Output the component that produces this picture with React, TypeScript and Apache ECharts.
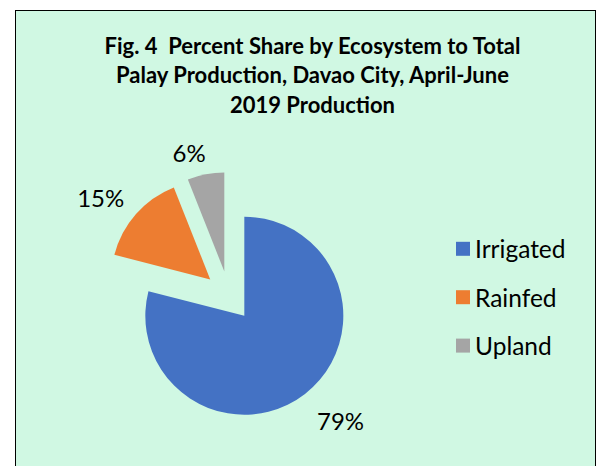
import React, { useEffect, useRef } from "react";
import * as echarts from "echarts";

const categories = ["Irrigated", "Rainfed", "Upland"];
const shares = [79, 15, 6];
const colors = ["#4472C4", "#ED7D31", "#A5A5A5"];
const labelLengths = [33.5, 25, 22];
const labelDistances = [-8.5, -7, -4];
const titleText = "Fig. 4  Percent Share by Ecosystem to Total\nPalay Production, Davao City, April-June\n2019 Production";

export default function App() {
  const ref = useRef<HTMLDivElement>(null);
  useEffect(() => {
    if (!ref.current) return;
    const chart = echarts.init(ref.current, undefined, { renderer: "svg" });
    chart.setOption({
      animation: false,
      title: {
        text: titleText,
        left: 307.5,
        top: 25.25,
        padding: 5,
        textAlign: "center",
        textStyle: {
          fontFamily: "Lato",
          fontWeight: "bold",
          fontSize: 22,
          lineHeight: 29.5,
          color: "#000",
        },
      },
      legend: {
        orient: "vertical",
        left: 451,
        top: 231.3,
        icon: "rect",
        itemWidth: 14,
        itemHeight: 14,
        itemGap: 23.4,
        itemTextGap: 10,
        selectedMode: false,
        data: categories,
        textStyle: { fontFamily: "Lato", fontSize: 24.5, lineHeight: 25, color: "#000" },
      },
      series: [
        {
          type: "pie",
          center: [229, 296],
          radius: 99,
          startAngle: 90,
          clockwise: true,
          selectedMode: "multiple",
          selectedOffset: 25,
          emphasis: { disabled: true },
          label: {
            show: true,
            position: "outside",
            formatter: "{d}%",
            fontFamily: "Lato",
            fontSize: 24,
            color: "#000",
          },
          labelLine: { show: false, length2: 0 },
          data: categories.map((name, i) => ({
            name,
            value: shares[i],
            selected: true,
            itemStyle: { color: colors[i] },
            label: { distanceToLabelLine: labelDistances[i] },
            labelLine: { show: false, length: labelLengths[i], length2: 0 },
          })),
        },
      ],
    });
    return () => chart.dispose();
  }, []);
  return (
    <div style={{ position: "absolute", left: 0, top: 0, width: 603, height: 466, overflow: "hidden", background: "#fff" }}>
      <div
        style={{
          position: "absolute",
          left: 15,
          top: 10,
          width: 581,
          height: 470,
          boxSizing: "border-box",
          border: "1px solid #000",
          background: "#D0F8E3",
        }}
      />
      <div ref={ref} style={{ position: "absolute", left: 0, top: 0, width: 603, height: 466 }} />
    </div>
  );
}
